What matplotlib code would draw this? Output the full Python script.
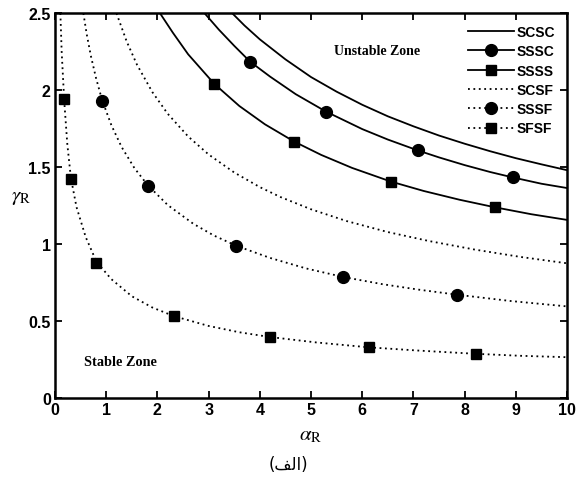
import matplotlib
matplotlib.use("Agg")
import matplotlib.pyplot as plt
from matplotlib.lines import Line2D

# ---- curves (alpha_R, gamma_R) ----
SCSC_A = [3.46, 3.7, 4.0, 4.5, 5.0, 5.5, 6.0, 6.5, 7.0, 7.5, 8.0, 8.5, 9.0, 9.5, 10.0]
SCSC_G = [2.50, 2.42, 2.33, 2.20, 2.085, 1.99, 1.905, 1.83, 1.765, 1.705, 1.652, 1.603, 1.558, 1.518, 1.48]

SSSC_A = [2.92, 3.2, 3.5, 3.81, 4.2, 4.7, 5.29, 6.0, 6.5, 7.08, 7.5, 8.0, 8.5, 8.94, 9.5, 10.0]
SSSC_G = [2.50, 2.393, 2.288, 2.185, 2.088, 1.974, 1.861, 1.747, 1.679, 1.609, 1.563, 1.513, 1.468, 1.433, 1.392, 1.364]
SSSC_MA = [3.81, 5.29, 7.08, 8.94]
SSSC_MG = [2.18, 1.86, 1.61, 1.435]

SSSS_A = [2.05, 2.3, 2.6, 3.11, 3.6, 4.1, 4.67, 5.2, 5.8, 6.56, 7.2, 7.9, 8.59, 9.3, 10.0]
SSSS_G = [2.50, 2.374, 2.233, 2.041, 1.897, 1.778, 1.666, 1.579, 1.495, 1.406, 1.345, 1.288, 1.239, 1.194, 1.157]
SSSS_MA = [3.11, 4.67, 6.56, 8.59]
SSSS_MG = [2.04, 1.666, 1.406, 1.239]

SCSF_A = [1.2, 1.4, 1.6, 1.9, 2.2, 2.6, 3.0, 3.5, 4.0, 4.4, 5.0, 5.7, 6.5, 7.3, 8.2, 9.1, 10.0]
SCSF_G = [2.50, 2.316, 2.166, 1.988, 1.847, 1.699, 1.582, 1.465, 1.370, 1.306, 1.226, 1.149, 1.078, 1.020, 0.964, 0.916, 0.875]

SSSF_A = [0.554, 0.62, 0.7, 0.8, 0.92, 1.1, 1.3, 1.55, 1.81, 2.2, 2.7, 3.1, 3.54, 4.2, 4.9, 5.63, 6.4, 7.1, 7.85, 8.9, 10.0]
SSSF_G = [2.50, 2.362, 2.223, 2.080, 1.935, 1.773, 1.631, 1.494, 1.383, 1.254, 1.132, 1.056, 0.989, 0.910, 0.842, 0.786, 0.739, 0.704, 0.671, 0.630, 0.595]
SSSF_MA = [0.92, 1.81, 3.54, 5.63, 7.85]
SSSF_MG = [1.93, 1.38, 0.989, 0.786, 0.672]

SFSF_A = [0.105, 0.13, 0.18, 0.24, 0.31, 0.42, 0.6, 0.81, 1.1, 1.5, 1.9, 2.32, 3.0, 3.6, 4.2, 5.1, 6.13, 7.1, 8.22, 9.1, 10.0]
SFSF_G = [2.50, 2.25, 1.93, 1.65, 1.43, 1.24, 1.045, 0.885, 0.772, 0.661, 0.588, 0.532, 0.468, 0.427, 0.396, 0.361, 0.329, 0.308, 0.287, 0.274, 0.265]
SFSF_MA = [0.18, 0.31, 0.81, 2.32, 4.2, 6.13, 8.22]
SFSF_MG = [1.94, 1.42, 0.88, 0.532, 0.396, 0.329, 0.288]

X_TICKS = list(range(0, 11))
Y_TICKS = [0, 0.5, 1, 1.5, 2, 2.5]
Y_TICKLABELS = ["0", "0.5", "1", "1.5", "2", "2.5"]

plt.rcParams["mathtext.fontset"] = "stix"

fig = plt.figure(figsize=(5.76, 4.81), dpi=100)
ax = fig.add_axes([0.0955, 0.1705, 0.889, 0.80])

SOLID = dict(color="black", linewidth=1.3, linestyle="-")
DOTTED = dict(color="black", linewidth=1.3, linestyle=(0, (1, 2)))

ax.plot(SCSC_A, SCSC_G, **SOLID)
ax.plot(SSSC_A, SSSC_G, **SOLID)
ax.plot(SSSC_MA, SSSC_MG, "o", color="black", markersize=8.5)
ax.plot(SSSS_A, SSSS_G, **SOLID)
ax.plot(SSSS_MA, SSSS_MG, "s", color="black", markersize=7)
ax.plot(SCSF_A, SCSF_G, **DOTTED)
ax.plot(SSSF_A, SSSF_G, **DOTTED)
ax.plot(SSSF_MA, SSSF_MG, "o", color="black", markersize=8.5)
ax.plot(SFSF_A, SFSF_G, **DOTTED)
ax.plot(SFSF_MA, SFSF_MG, "s", color="black", markersize=7)

ax.set_xlim(0, 10)
ax.set_ylim(0, 2.5)

tick_font = dict(family=["Liberation Sans Narrow", "Liberation Sans", "DejaVu Sans"],
                 weight="bold", size=11.5)
ax.set_xticks(X_TICKS)
ax.set_xticklabels([str(t) for t in X_TICKS], **tick_font)
ax.set_yticks(Y_TICKS)
ax.set_yticklabels(Y_TICKLABELS, **tick_font)
ax.tick_params(direction="in", top=True, right=True, length=5, width=1.3, pad=3)
for s in ax.spines.values():
    s.set_linewidth(1.8)

ax.text(6.28, 2.255, "Unstable Zone", ha="center", va="center",
        family="Liberation Serif", weight="bold", fontsize=10)
ax.text(1.27, 0.234, "Stable Zone", ha="center", va="center",
        family="Liberation Serif", weight="bold", fontsize=10.3)

ax.set_xlabel(r"$\alpha_{\mathrm{R}}$", fontsize=15, labelpad=5)
ax.set_ylabel(r"$\gamma_{\mathrm{R}}$", fontsize=15, rotation=0, labelpad=5)

handles = [
    Line2D([], [], **SOLID),
    Line2D([], [], marker="o", markersize=8.5, **SOLID),
    Line2D([], [], marker="s", markersize=7, **SOLID),
    Line2D([], [], **DOTTED),
    Line2D([], [], marker="o", markersize=8.5, **DOTTED),
    Line2D([], [], marker="s", markersize=7, **DOTTED),
]
labels = ["SCSC", "SSSC", "SSSS", "SCSF", "SSSF", "SFSF"]
ax.legend(handles, labels, loc="upper right", frameon=False, handlelength=3.3,
          handletextpad=0.2, labelspacing=0.38, borderaxespad=0.45,
          prop=dict(family=["Liberation Sans", "DejaVu Sans"], weight="bold", size=10))

# Arabic caption, written in presentation forms so it joins without shaping
fig.text(0.5, 0.033, "(\uFED2\uFEDF\uFE8D)", ha="center", va="center",
         family=["DejaVu Sans"], fontsize=12)

fig.savefig("out.png", dpi=100)
